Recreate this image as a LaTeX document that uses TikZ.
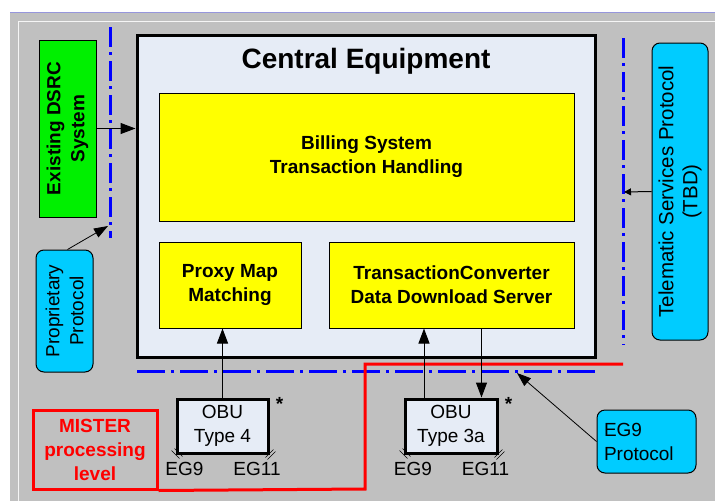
\documentclass[tikz,border=0pt]{standalone}
\usepackage{fontspec}
\setmainfont{Liberation Sans}
\usetikzlibrary{arrows.meta}

\definecolor{bggray}{RGB}{192,192,192}
\definecolor{paneblue}{RGB}{230,236,246}
\definecolor{boxyellow}{RGB}{255,255,0}
\definecolor{dsrcgreen}{RGB}{0,240,0}
\definecolor{protocyan}{RGB}{0,204,255}
\definecolor{framelilac}{RGB}{150,150,220}

\begin{document}
\begin{tikzpicture}[x=1pt, y=-1pt,
    txt/.style={font=\fontsize{19}{24}\selectfont, inner sep=0pt},
    boldtxt/.style={font=\bfseries\fontsize{19}{24}\selectfont, inner sep=0pt},
    yellowbox/.style={boldtxt, draw, line width=1pt, fill=boxyellow, align=center},
    cyanbox/.style={txt, draw, line width=1pt, fill=protocyan, rounded corners=8pt, align=center},
    obubox/.style={txt, draw, line width=3pt, fill=paneblue, align=center,
        minimum height=54pt},
    bluedash/.style={blue, line width=3pt, dash pattern=on 20pt off 5pt on 3pt off 6pt},
    blueline/.style={blue, line width=3pt, dash pattern=on 28pt off 6pt on 3pt off 6pt},
    redline/.style={red, line width=3pt},
    bigarrow/.style={line width=1pt, -{Triangle[length=15pt,width=11pt]}},
    thinarrow/.style={line width=0.8pt, -{Triangle[length=14pt,width=10pt]}},
    smallarrow/.style={line width=1pt, -{Triangle[length=7pt,width=7pt]}}]

    % Window background with its frame lines
    \useasboundingbox (0,0) rectangle (715,501);
    \fill[white] (0,0) rectangle (715,501);
    \fill[bggray] (10,12) rectangle (715,501);
    \draw[framelilac, line width=1.5pt] (10,12.5) -- (715,12.5);
    \draw[white!92!gray, line width=1.5pt] (18.5,501) -- (18.5,21.5) -- (715,21.5);

    % Central equipment and its title
    \node[draw, line width=3pt, fill=paneblue, minimum width=458pt,
          minimum height=322pt, inner sep=0pt] (central) at (366,196) {};
    \node[font=\bfseries\fontsize{28}{30}\selectfont, inner sep=0pt] (title) at (366,61) {Central Equipment};

    % The three yellow blocks inside
    \node[yellowbox, minimum width=415pt, minimum height=128pt] (billing) at (366.5,157)
        {Billing System\\Transaction Handling};
    \node[yellowbox, minimum width=142pt, minimum height=86pt] (proxy) at (230,285)
        {Proxy Map\\Matching};
    \node[yellowbox, minimum width=245pt, minimum height=86pt] (tc) at (451.5,285)
        {TransactionConverter\\Data Download Server};

    % Existing system and the protocol boxes
    \node[boldtxt, draw, line width=1pt, fill=dsrcgreen, rotate=90, align=center,
          minimum width=177pt, minimum height=57pt] (dsrc) at (67.5,128.5)
        {Existing DSRC\\System};
    \node[cyanbox, rotate=90, minimum width=122pt, minimum height=57pt] (prop) at (64.5,311)
        {Proprietary\\Protocol};
    \node[cyanbox, rotate=90, minimum width=297pt, minimum height=56pt,
          font=\fontsize{20.5}{24}\selectfont] (tel) at (680,191.5)
        {Telematic Services Protocol\\(TBD)};
    \node[cyanbox, align=left, text width=85pt, inner xsep=7pt,
          minimum height=63pt] (eg9p) at (646.5,441.5)
        {EG9\\Protocol};

    % Processing level boundaries
    \draw[bluedash] (110,27) -- (110,238);
    \draw[bluedash] (623,38) -- (623,345);
    \draw[blueline] (137,371) -- (597,371);

    % MISTER processing level
    \node[boldtxt, draw=red, text=red, line width=3pt, align=center,
          minimum width=124pt, minimum height=79pt] (mister) at (95,449.5)
        {MISTER\\processing\\level};
    \draw[redline] (mister.south east) -- (365,489) -- (365,364) -- (623,364);

    % On-board units
    \node[obubox, minimum width=91pt] (obua) at (222.5,426) {OBU\\Type 4};
    \node[obubox, minimum width=92pt] (obub) at (451,426) {OBU\\Type 3a};

    % Ports, labels and stars of the units
    \foreach \obu in {obua,obub}{
        \draw[line width=0.6pt] (\obu.south west) ++(-4,-4) -- ++(8,8);
        \draw[line width=0.6pt] (\obu.south west) ++(-1,-6) -- ++(8,8);
        \draw[line width=0.6pt] (\obu.south east) ++(4,-5) -- ++(-8,8);
        \draw[line width=0.6pt] (\obu.south east) ++(6,-3) -- ++(-8,8);
        \node[txt] at ([xshift=-38pt,yshift=-14pt]\obu.south) {EG9};
        \node[txt] at ([xshift=34.5pt,yshift=-14pt]\obu.south) {EG11};
        \node[boldtxt] at ([xshift=10pt,yshift=-6pt]\obu.north east) {*};
    }

    % Free ends of the arrows that stop at a boundary
    \coordinate (propEnd) at (108,226);
    \coordinate (telEnd) at (624,192);
    \coordinate (eg9End) at (517,373);
    \coordinate (upFoot) at ([xshift=-27pt]obub.north);
    \coordinate (upHead) at (upFoot |- tc.south);
    \coordinate (downTop) at ([xshift=30pt]tc.south);

    % Arrows
    \draw[bigarrow] (dsrc.south) -- (dsrc.south -| central.west);
    \draw[thinarrow] (prop.east) ++(3,0) -- (propEnd);
    \draw[smallarrow] (tel.north) -- (telEnd);
    \draw[thinarrow] (eg9p.west) -- (eg9End);
    \draw[bigarrow] (obua.north) -- (obua.north |- proxy.south);
    \draw[bigarrow] (upFoot) -- (upHead);
    \draw[bigarrow] (downTop) -- (downTop |- obub.north);

\end{tikzpicture}
\end{document}
